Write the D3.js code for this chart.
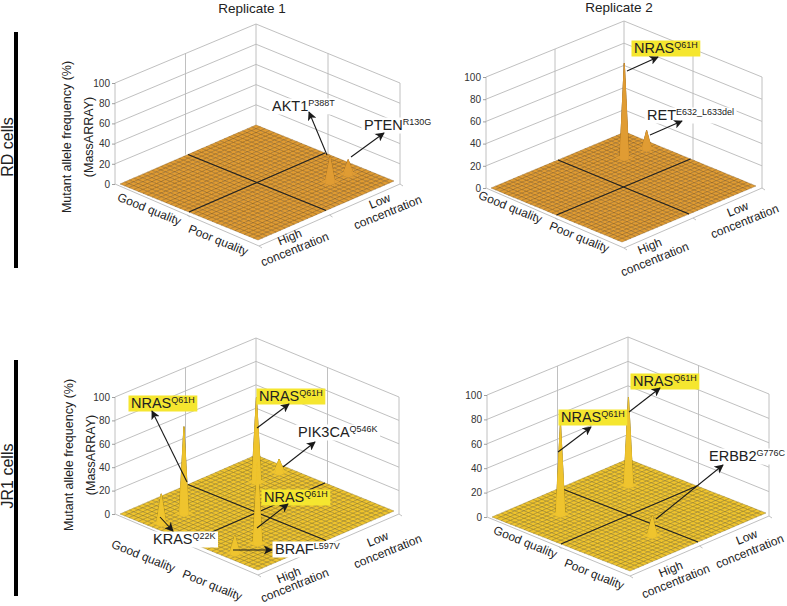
<!DOCTYPE html>
<html>
<head>
<meta charset="utf-8">
<script src="https://cdn.jsdelivr.net/npm/d3@7"></script>
<style>
  html, body { margin: 0; padding: 0; background: #fff; }
  svg { display: block; font-family: "Liberation Sans", Arial, sans-serif; }
</style>
</head>
<body>
<div id="chart"></div>
<script>
// Values
const gridSize = 30;
const zTicks = [0, 20, 40, 60, 80, 100];
const qualityLabels = ["Good quality", "Poor quality"];
const concLabels = [["High", "concentration"], ["Low", "concentration"]];

// peaks: [quality grid index, concentration grid index, allele frequency %]
const rdRep1Peaks = [[23, 23, 25], [23, 27, 14]];
const rdRep2Peaks = [[7, 23, 85], [7, 28, 16]];
const jr1Rep1Peaks = [[7, 23, 72], [23, 7, 69], [7, 7, 74], [7, 2, 25], [7, 28, 11], [23, 2, 15]];
const jr1Rep2Peaks = [[7, 23, 72], [7, 8, 75], [23, 12, 16]];

// [gene, variant, label kind]
const rdRep1Labels = [["AKT1", "P388T", "plain"], ["PTEN", "R130G", "plain"]];
const rdRep2Labels = [["NRAS", "Q61H", "hit"], ["RET", "E632_L633del", "plain"]];
const jr1Rep1Labels = [["NRAS", "Q61H", "hit"], ["NRAS", "Q61H", "hit"], ["PIK3CA", "Q546K", "plain"],
  ["NRAS", "Q61H", "hit"], ["KRAS", "Q22K", "plain"], ["BRAF", "L597V", "plain"]];
const jr1Rep2Labels = [["NRAS", "Q61H", "hit"], ["NRAS", "Q61H", "hit"], ["ERBB2", "G776C", "plain"]];

const orange = { fill: "#e09c33", mesh: "#6e4810" };
const yellow = { fill: "#efc42e", mesh: "#6f5b14" };

// Panel placement on the page
const panels = [
  {
    peaks: rdRep1Peaks, labels: rdRep1Labels, colors: orange,
    box: { L: [115, 184], B: [256, 125], R: [400, 184], F: [259, 246] }, zTop: 83,
    surf: { L: [120, 184], B: [256, 125], F: [258, 240] },
    qualityPos: [[149, 210], [218, 241]],
    concPos: [[[290, 238], [295, 250]], [[380, 202], [388, 213]]],
    textPos: [[272, 111], [364, 130]],
    arrows: [[[327, 155], [309, 112]], [[351, 157], [384, 133]]]
  },
  {
    peaks: rdRep2Peaks, labels: rdRep2Labels, colors: orange,
    box: { L: [486, 188], B: [624, 132], R: [762, 188], F: [624, 248] }, zTop: 77,
    surf: { L: [491, 188], B: [625, 132], F: [622, 242] },
    qualityPos: [[510, 208], [579, 238]],
    concPos: [[[650, 247], [655, 260]], [[738, 210], [745, 222]]],
    textPos: [[634, 53], [647, 120]],
    arrows: [[[627, 71], [658, 57]], [[650, 135], [682, 121]]]
  },
  {
    peaks: jr1Rep1Peaks, labels: jr1Rep1Labels, colors: yellow,
    box: { L: [115, 514], B: [256, 455], R: [399, 514], F: [258, 575] }, zTop: 397,
    surf: { L: [120, 514], B: [256, 455], F: [258, 570] },
    qualityPos: [[143, 557], [212, 586]],
    concPos: [[[289, 576], [295, 586]], [[378, 540], [388, 552]]],
    textPos: [[131, 408], [259, 401], [298, 437], [264, 502], [153, 544], [275, 554]],
    arrows: [[[187, 482], [152, 411]], [[257, 428], [289, 404]], [[283, 467], [315, 442]],
      [[257, 528], [288, 504]], [[160, 517], [173, 531]], [[233, 550], [272, 550]]]
  },
  {
    peaks: jr1Rep2Peaks, labels: jr1Rep2Labels, colors: yellow,
    box: { L: [487, 517], B: [628, 459], R: [769, 516], F: [630, 576] }, zTop: 395,
    surf: { L: [492, 517], B: [628, 459], F: [630, 571] },
    qualityPos: [[525, 543], [594, 575]],
    concPos: [[[671, 570], [676, 582]], [[747, 538], [750, 552]]],
    textPos: [[561, 422], [633, 386], [709, 461]],
    arrows: [[[558, 452], [591, 427]], [[629, 412], [660, 388]], [[656, 519], [723, 465]]]
  }
];

const svg = d3.select("#chart").append("svg")
  .attr("width", 787)
  .attr("height", 606);

svg.append("defs").append("marker")
  .attr("id", "arrow")
  .attr("viewBox", "0 0 10 10")
  .attr("refX", 9)
  .attr("refY", 5)
  .attr("markerWidth", 9)
  .attr("markerHeight", 9)
  .attr("markerUnits", "userSpaceOnUse")
  .attr("orient", "auto")
  .append("path")
  .attr("d", "M0,0 L10,5 L0,10 L2.5,5 Z")
  .attr("fill", "#1a1a1a");

function drawPanel(p) {
  const g = svg.append("g");
  const box = p.box;
  const grid = g.append("g").attr("fill", "none").attr("stroke", "#b9b9b9").attr("stroke-width", 0.9);

  // z scale shared by left wall, back wall and surface
  const zScale = d3.scaleLinear().domain([0, 100]).range([box.L[1], p.zTop]);
  const rise = z => zScale(0) - zScale(z);
  const frac = d3.scaleLinear().domain([0, gridSize]).range([0, 1]);

  const wall = d3.line();
  zTicks.forEach(t => {
    if (t > 0) {
      grid.append("path").attr("d", wall([
        [box.L[0], box.L[1] - rise(t)],
        [box.B[0], box.B[1] - rise(t)],
        [box.R[0], box.R[1] - rise(t)]
      ]));
    }
  });

  // vertical wall lines
  const midLB = [(box.L[0] + box.B[0]) / 2, (box.L[1] + box.B[1]) / 2];
  const midBR = [(box.B[0] + box.R[0]) / 2, (box.B[1] + box.R[1]) / 2];
  [box.L, midLB, box.B, midBR, box.R].forEach(c => {
    grid.append("path").attr("d", wall([c, [c[0], c[1] - rise(100)]]));
  });

  // floor edges with their ticks
  grid.append("path").attr("d", wall([box.L, box.F, box.R]));
  const midLF = [(box.L[0] + box.F[0]) / 2, (box.L[1] + box.F[1]) / 2];
  const midFR = [(box.F[0] + box.R[0]) / 2, (box.F[1] + box.R[1]) / 2];
  [midLF, box.F, midFR, box.R].forEach(c => {
    grid.append("path").attr("d", wall([c, [c[0] + 3, c[1] + 2]]));
  });

  // z axis
  const axis = g.append("g")
    .attr("transform", `translate(${box.L[0]},0)`)
    .call(d3.axisLeft(zScale).tickValues(zTicks).tickSize(3).tickPadding(2).tickFormat(d3.format("d")));
  axis.select(".domain").remove();
  axis.selectAll("line").attr("stroke", "#888").attr("stroke-width", 0.8);
  axis.selectAll("text").attr("font-size", 10).attr("fill", "#333").attr("font-family", "inherit");

  // surface values on the grid, zero apart from the peaks
  const values = new Map(p.peaks.map(d => [d[0] + "," + d[1], d[2]]));
  const zAt = (i, j) => values.get(i + "," + j) || 0;
  const s = p.surf;
  const point = (i, j) => {
    const a = frac(i), b = frac(j);
    return [
      s.L[0] + a * (s.F[0] - s.L[0]) + b * (s.B[0] - s.L[0]),
      s.L[1] + a * (s.F[1] - s.L[1]) + b * (s.B[1] - s.L[1]) - rise(zAt(i, j))
    ];
  };

  const cells = [];
  for (let i = 0; i < gridSize; i++) {
    for (let j = 0; j < gridSize; j++) {
      const tall = zAt(i, j) || zAt(i + 1, j) || zAt(i, j + 1) || zAt(i + 1, j + 1);
      cells.push({ i, j, tall: !!tall });
    }
  }
  // back corner first so that nearer cells paint over farther ones
  cells.sort((a, b) => (a.i - a.j) - (b.i - b.j));

  const cellPath = d => "M" + [point(d.i, d.j), point(d.i + 1, d.j), point(d.i + 1, d.j + 1), point(d.i, d.j + 1)]
    .map(q => q.join(",")).join("L") + "Z";

  const meshStyle = sel => sel
    .attr("d", cellPath)
    .attr("fill", p.colors.fill)
    .attr("stroke", p.colors.mesh)
    .attr("stroke-opacity", 0.65)
    .attr("stroke-width", 0.5);

  g.append("g").selectAll("path")
    .data(cells)
    .enter()
    .append("path")
    .call(meshStyle);

  // quadrant divider lines lie on the floor
  const floorPt = (a, b) => [
    s.L[0] + a * (s.F[0] - s.L[0]) + b * (s.B[0] - s.L[0]),
    s.L[1] + a * (s.F[1] - s.L[1]) + b * (s.B[1] - s.L[1])
  ];
  [[floorPt(0.5, 0), floorPt(0.5, 1)], [floorPt(0, 0.5), floorPt(1, 0.5)]].forEach(seg => {
    g.append("path").attr("d", wall(seg)).attr("stroke", "#222").attr("stroke-width", 1.1).attr("fill", "none");
  });

  // spikes again on top of the divider lines
  g.append("g").selectAll("path")
    .data(cells.filter(d => d.tall))
    .enter()
    .append("path")
    .call(meshStyle)
    .attr("stroke", p.colors.fill)
    .attr("stroke-opacity", 0.4);

  // axis category labels
  qualityLabels.forEach((t, k) => {
    const pos = p.qualityPos[k];
    g.append("text")
      .attr("transform", `translate(${pos[0]},${pos[1]}) rotate(22)`)
      .attr("text-anchor", "middle")
      .attr("dominant-baseline", "middle")
      .attr("font-size", 12)
      .attr("fill", "#222")
      .text(t);
  });
  concLabels.forEach((lines, k) => {
    lines.forEach((t, m) => {
      const pos = p.concPos[k][m];
      g.append("text")
        .attr("transform", `translate(${pos[0]},${pos[1]}) rotate(-22)`)
        .attr("text-anchor", "middle")
        .attr("dominant-baseline", "middle")
        .attr("font-size", 12)
        .attr("fill", "#222")
        .text(t);
    });
  });

  // gene labels with arrows
  p.labels.forEach((d, k) => {
    const pos = p.textPos[k];
    const bg = g.append("rect");
    const label = g.append("text")
      .attr("x", pos[0])
      .attr("y", pos[1])
      .attr("fill", "#222")
      .attr("font-size", 14.5);
    label.append("tspan").text(d[0]);
    label.append("tspan").attr("font-size", 9).attr("dy", -5).text(d[1]);
    const bb = label.node().getBBox();
    bg.attr("x", bb.x - 2.5)
      .attr("y", bb.y + 0.5)
      .attr("width", bb.width + 5)
      .attr("height", bb.height)
      .attr("fill", d[2] === "hit" ? "#f5e62f" : "#fff");
    const a = p.arrows[k];
    g.append("path")
      .attr("d", wall(a))
      .attr("fill", "none")
      .attr("stroke", "#1a1a1a")
      .attr("stroke-width", 1.1)
      .attr("marker-end", "url(#arrow)");
  });
}

panels.forEach(drawPanel);

// Replicate headings
svg.append("text").attr("x", 252).attr("y", 13).attr("text-anchor", "middle")
  .attr("font-size", 13.5).attr("fill", "#222").text("Replicate 1");
svg.append("text").attr("x", 619).attr("y", 12).attr("text-anchor", "middle")
  .attr("font-size", 13.5).attr("fill", "#222").text("Replicate 2");

// Row bars, row names and y titles
const rows = [
  { name: "RD cells", y0: 32, y1: 268, nameY: 147, nameX: 13, t1: 71, t2: 93, titleY: 137 },
  { name: "JR1 cells", y0: 360, y1: 596, nameY: 476, nameX: 13, t1: 73, t2: 95, titleY: 455 }
];
rows.forEach(r => {
  svg.append("rect").attr("x", 14).attr("y", r.y0).attr("width", 4).attr("height", r.y1 - r.y0).attr("fill", "#000");
  svg.append("text")
    .attr("transform", `translate(${r.nameX},${r.nameY}) rotate(-90)`)
    .attr("text-anchor", "middle").attr("font-size", 16).attr("fill", "#222").text(r.name);
  svg.append("text")
    .attr("transform", `translate(${r.t1},${r.titleY}) rotate(-90)`)
    .attr("text-anchor", "middle").attr("font-size", 12.5).attr("fill", "#222").text("Mutant allele frequency (%)");
  svg.append("text")
    .attr("transform", `translate(${r.t2},${r.titleY}) rotate(-90)`)
    .attr("text-anchor", "middle").attr("font-size", 12.5).attr("fill", "#222").text("(MassARRAY)");
});
</script>
</body>
</html>
